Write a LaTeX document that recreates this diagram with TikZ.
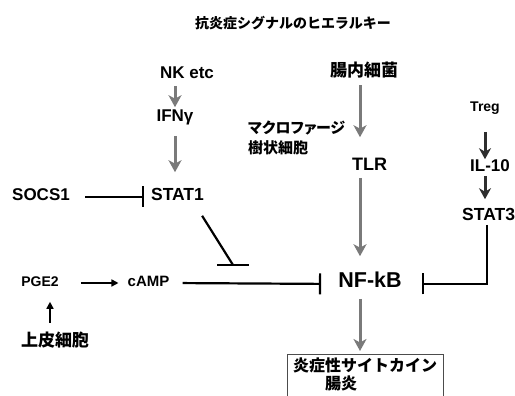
\documentclass[tikz,border=0pt]{standalone}
\usepackage{fontspec}
\setmainfont{Liberation Sans}
\newfontfamily\jp{Noto Sans CJK JP}
\newfontfamily\jpp{Noto Sans CJK JP}[RawFeature=+palt]
\usetikzlibrary{arrows.meta}
\definecolor{arrgray}{HTML}{7A7A7A}
\definecolor{darkarr}{HTML}{2E2E2E}
\tikzset{
  lbl/.style={inner sep=0pt, font=\bfseries, text height=0.72em, text depth=0pt},
  jlbl/.style={inner sep=0pt, font=\jp\bfseries},
  garrow/.style={draw=arrgray, line width=3pt, -{Stealth[length=12pt, width=13pt, inset=3.5pt]}},
  darrow/.style={draw=darkarr, line width=3pt, -{Stealth[length=11pt, width=12pt, inset=3.5pt]}},
  tarrow/.style={draw=black, line width=1.6pt, -{Triangle[length=7pt, width=7pt]}},
  inh/.style={draw=black, line width=2.2pt, -{Bar[width=21pt, line width=2.2pt]}},
  inhline/.style={draw=black, line width=2.2pt},
}
\begin{document}
\begin{tikzpicture}[x=1pt, y=1pt]
\useasboundingbox (0,0) rectangle (515,396);
\clip (0,0) rectangle (515,396);
% title
\node[inner sep=0pt, font=\jp\bfseries\fontsize{14}{16}\selectfont] (title) at (293,373) {抗炎症シグナルのヒエラルキー};
% left column
\node[lbl, font=\bfseries\fontsize{17}{19}\selectfont] (nk) at (187,321) {NK etc};
\node[lbl, font=\bfseries\fontsize{17}{19}\selectfont] (ifn) at (175,278) {IFNγ};
\node[lbl, font=\bfseries\fontsize{17.5}{19}\selectfont] (stat1) at (177.5,199) {STAT1};
\node[lbl, font=\bfseries\fontsize{17}{19}\selectfont] (socs1) at (41,199) {SOCS1};
\node[lbl, font=\bfseries\fontsize{14}{16}\selectfont] (pge2) at (40,113) {PGE2};
\node[lbl, font=\bfseries\fontsize{15}{17}\selectfont] (camp) at (148.5,113) {cAMP};
\node[jlbl, font=\jp\bfseries\fontsize{17}{19}\selectfont] (epi) at (55,56) {上皮細胞};
% middle column
\node[jlbl, font=\jp\bfseries\fontsize{17}{19}\selectfont] (gut) at (364,326) {腸内細菌};
\node[inner sep=0pt, anchor=west, align=left, font=\jpp\bfseries\fontsize{15}{20}\selectfont] (mac) at (248,258) {マクロファージ\\樹状細胞};
\node[lbl, font=\bfseries\fontsize{18}{20}\selectfont] (tlr) at (369.5,229) {TLR};
\node[lbl, font=\bfseries\fontsize{21.5}{24}\selectfont] (nfkb) at (370,112) {NF-kB};
\node[inner xsep=6pt, inner ysep=4pt, anchor=north west, align=left, font=\jp\bfseries\fontsize{16}{18}\selectfont] (out) at (287,42) {炎症性サイトカイン\\　　腸炎};
% right column
\node[lbl, font=\bfseries\fontsize{14}{16}\selectfont] (treg) at (485,288) {Treg};
\node[lbl, font=\bfseries\fontsize{17}{19}\selectfont] (il10) at (490,228) {IL-10};
\node[lbl, anchor=west, font=\bfseries\fontsize{17.5}{19}\selectfont] (stat3) at (462,179) {STAT3};
\coordinate (stop1) at (233,131);
% output box (open at the bottom edge)
\draw[draw=black!70, line width=0.9pt] (out.north west |- 0,-10) -- (out.north west) -- (out.north east) -- (out.north east |- 0,-10);
% connectors
\draw[garrow, shorten <=7pt, shorten >=7pt] (nk.south -| ifn.north) -- (ifn.north);
\draw[garrow, shorten <=14pt, shorten >=21pt] (ifn.south) -- (stat1.north -| ifn.south);
\draw[inh, shorten <=15pt, shorten >=7pt] (socs1.east) -- (stat1.west);
\draw[inhline] ([shift={(-2pt,-15pt)}]stat1.south east) -- (stop1);
\draw[inhline] ([xshift=-16pt]stop1) -- ([xshift=16pt]stop1);
\draw[tarrow, shorten <=22pt, shorten >=9pt] (pge2.east) -- (camp.west);
\draw[tarrow, shorten <=9pt, shorten >=15pt] ([xshift=-5pt]epi.north) -- ([xshift=10pt]pge2.south);
\draw[inh, shorten <=13pt, shorten >=17pt] (camp.east) -- (nfkb.west);
\draw[garrow, shorten <=7pt, shorten >=26pt] ([xshift=-4pt]gut.south) -- ([xshift=-9.5pt]tlr.north);
\draw[garrow, shorten <=7pt, shorten >=24pt] ([xshift=-9.5pt]tlr.south) -- ([xshift=-10pt]nfkb.north);
\draw[garrow, shorten <=11pt, shorten >=3pt] ([xshift=-10pt]nfkb.south) -- ([xshift=-10pt]nfkb.south |- out.north);
\draw[darrow, shorten <=20pt, shorten >=5pt] (treg.south) -- (il10.north -| treg.south);
\draw[darrow, shorten <=4pt, shorten >=14pt] (il10.south -| treg.south) -- (stat3.north -| treg.south);
\draw[inh, shorten <=4pt, shorten >=20pt] ([xshift=25pt]stat3.south west) |- (nfkb.east);
\end{tikzpicture}
\end{document}
